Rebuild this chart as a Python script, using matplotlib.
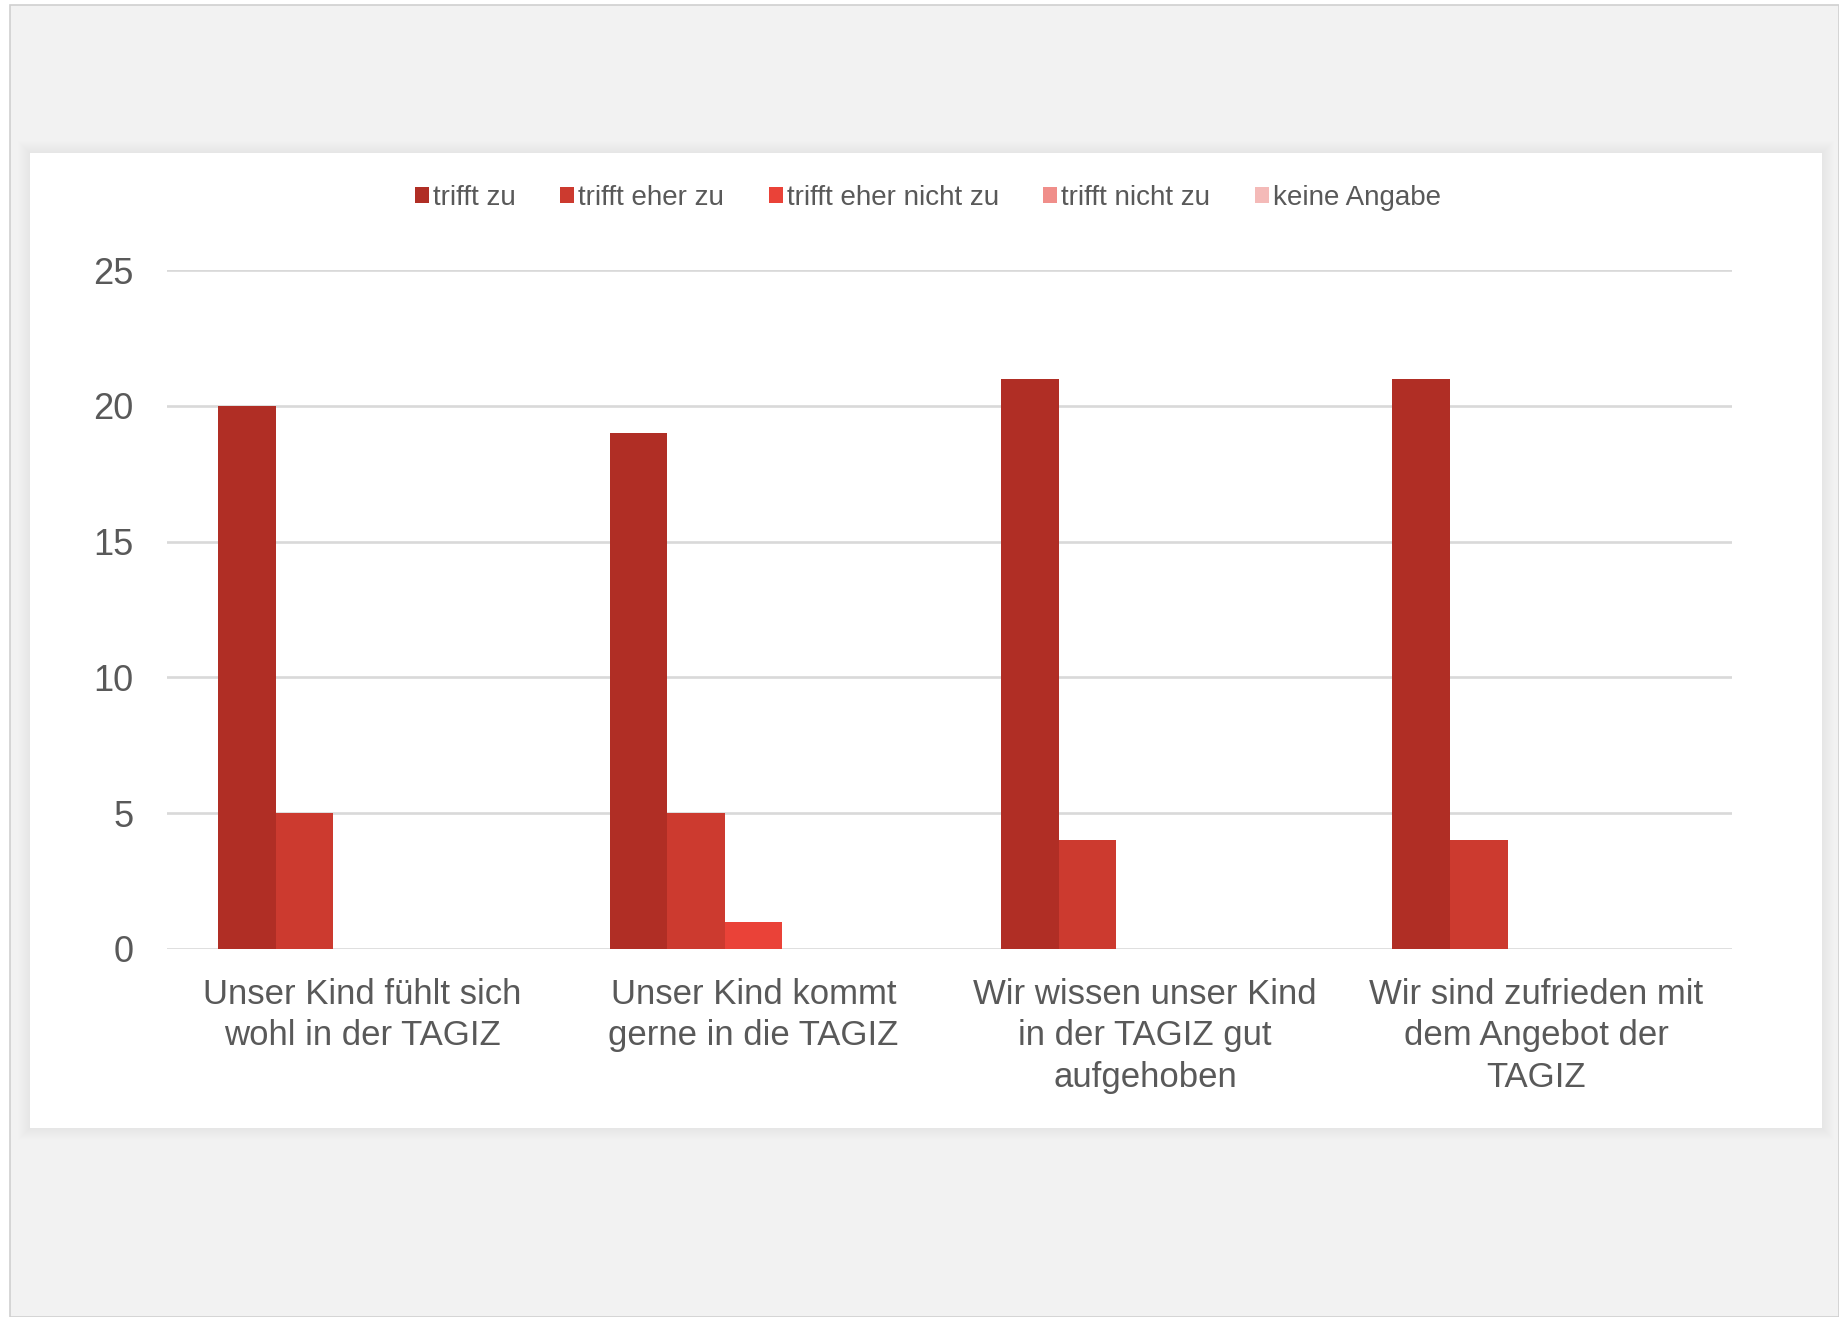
import matplotlib
matplotlib.use("Agg")
import matplotlib.pyplot as plt
import matplotlib.patches as mpatches
import numpy as np

plt.rcParams['font.family'] = ['Liberation Sans', 'DejaVu Sans']

categories = ['Unser Kind fühlt sich\nwohl in der TAGIZ',
              'Unser Kind kommt\ngerne in die TAGIZ',
              'Wir wissen unser Kind\nin der TAGIZ gut\naufgehoben',
              'Wir sind zufrieden mit\ndem Angebot der\nTAGIZ']
series_names = ['trifft zu', 'trifft eher zu', 'trifft eher nicht zu',
                'trifft nicht zu', 'keine Angabe']
trifft_zu = [20, 19, 21, 21]
trifft_eher_zu = [5, 5, 4, 4]
trifft_eher_nicht_zu = [0, 1, 0, 0]
trifft_nicht_zu = [0, 0, 0, 0]
keine_angabe = [0, 0, 0, 0]
series = [trifft_zu, trifft_eher_zu, trifft_eher_nicht_zu, trifft_nicht_zu, keine_angabe]
colors = ['#B02E25', '#CC3A2F', '#EA4238', '#F08E8A', '#F4BAB8']
yticks = [0, 5, 10, 15, 20, 25]

W, H = 1839, 1317
fig = plt.figure(figsize=(W / 100, H / 100), dpi=100)
fig.patch.set_facecolor('white')

# outer gray background with thin border
fig.patches.append(mpatches.Rectangle((10 / W, 0), 1 - 10 / W, 1 - 5 / H, transform=fig.transFigure,
                                      facecolor='#F2F2F2', edgecolor='#D0D0D0', linewidth=1.2, zorder=0))
# soft shadow around white panel
px0, py0, px1, py1 = 30, 153, 1822, 1128
for d in range(12, 0, -1):
    fig.patches.append(mpatches.Rectangle(((px0 - d) / W, 1 - (py1 + d) / H), (px1 - px0 + 2 * d) / W,
                                          (py1 - py0 + 2 * d) / H, transform=fig.transFigure,
                                          facecolor='black', alpha=0.004, edgecolor='none', zorder=0.5))
fig.patches.append(mpatches.Rectangle((px0 / W, 1 - py1 / H), (px1 - px0) / W, (py1 - py0) / H,
                                      transform=fig.transFigure, facecolor='white',
                                      edgecolor='none', zorder=1))

left, right, top, base = 166.5, 1732, 270, 949
ax = fig.add_axes([left / W, 1 - base / H, (right - left) / W, (base - top) / H])
ax.set_facecolor('none')
ax.set_zorder(2)

x = np.arange(len(categories))
bw = 0.147
for i, (vals, name, c) in enumerate(zip(series, series_names, colors)):
    ax.bar(x + (i - 2) * bw, vals, bw, color=c, label=name, zorder=3)

ax.set_xlim(-0.5, 3.5)
ax.set_ylim(0, 25)
ax.set_yticks(yticks)
ax.yaxis.grid(True, color='#D9D9D9', linewidth=1.9, zorder=0)
ax.set_axisbelow(True)
for s in ax.spines.values():
    s.set_visible(False)
ax.set_xticks(x)
ax.set_xticklabels(categories, fontsize=25, color='#595959', linespacing=1.32)
ax.tick_params(axis='y', length=0, pad=24, labelsize=26, labelcolor='#595959')
ax.tick_params(axis='x', length=0, pad=21)

handles, labels = ax.get_legend_handles_labels()
leg = fig.legend(handles, labels, loc='center', bbox_to_anchor=(928 / W, 1 - 198 / H), ncol=5,
                 frameon=False, fontsize=20, handlelength=0.5, handleheight=0.5,
                 handletextpad=0.15, columnspacing=1.6, labelcolor='#595959')
leg.set_zorder(3)

fig.savefig('out.png', dpi=100)
